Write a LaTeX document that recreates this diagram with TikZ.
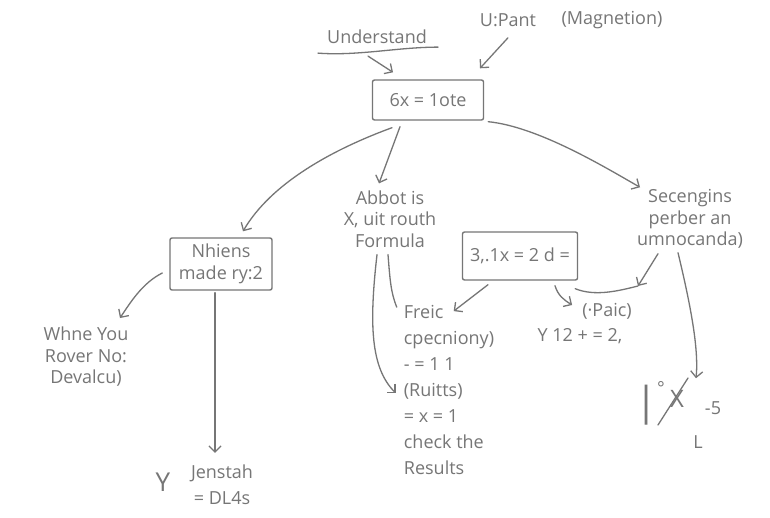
\documentclass[tikz,border=0pt]{standalone}
\usepackage{fontspec}
\setmainfont{Open Sans}
\usetikzlibrary{arrows.meta}
\definecolor{ink}{RGB}{118,118,118}

\begin{document}
\begin{tikzpicture}[x=1pt,y=-1pt,
	every node/.style = {text=ink, font=\fontsize{18}{21.5}\selectfont,
		align=center, inner sep=2pt},
	box/.style = {draw=ink, line width=1.4pt, rounded corners=2pt},
	line/.style = {draw=ink, line width=1.3pt, line cap=round},
	link/.style = {line, -{Straight Barb[length=6pt,width=12pt]}}]
	\useasboundingbox[fill=white] (0,0) rectangle (770,518);
	\node (under) at (377,37) {Understand};
	\node (upant) at (508,20) {U:Pant};
	\node (magn) at (612,20) {(Magnetion)};
	\node[box, minimum width=111pt, minimum height=40pt] (eq) at (428,100) {6x = 1ote};
	\node (abbot) at (390,219) {Abbot is\\X, uit routh\\Formula};
	\node (sec) at (690,219) {Secengins\\perber an\\umnocanda)};
	\node[box, minimum width=102pt, minimum height=52pt] (nh) at (221,264) {Nhiens\\made ry:2};
	\node[box, minimum width=115pt, minimum height=48pt] (calc) at (520,256) {3,.1x = 2 d =};
	\node (whne) at (86,357) {Whne You\\Rover No:\\Devalcu)};
	\node[font=\fontsize{18}{26}\selectfont] (jen) at (222,485) {Jenstah\\= DL4s};
	\node[font=\fontsize{26}{26}\selectfont] (why) at (163,482) {Y};
	\node[align=left, font=\fontsize{18}{26}\selectfont] (res) at (449,390)
		{Freic\\cpecniony)\\- = 1 1\\(Ruitts)\\= x = 1\\check the\\Results};
	\node (paic) at (607,311) {(·Paic)};
	\node (yy) at (580,336) {Y 12 + = 2,};
	\node[font=\fontsize{40}{40}\selectfont] (bar) at (647,405) {|};
	\node (deg) at (661,388) {°};
	\node[font=\fontsize{24}{24}\selectfont] (xx) at (677,399) {X};
	\node (five) at (713,408) {-5};
	\node (ell) at (698,442) {L};
	\coordinate (meet) at (638,286);

	\draw[line] ([shift={(-59,7)}]under.south) .. controls +(40,3) and +(-40,0) .. ([shift={(61,1)}]under.south);
	\draw[link] ([shift={(-9,10)}]under.south) -- ([shift={(-35,-7)}]eq.north);
	\draw[link] ([shift={(0,9)}]upant.south) -- ([shift={(52,-11)}]eq.north);
	\draw[link] ([shift={(-36,7)}]eq.south) .. controls +(-60,22) and +(28,-48) .. ([shift={(22,-6)}]nh.north);
	\draw[link] ([shift={(-28,6)}]eq.south) -- ([shift={(-11,-5)}]abbot.north);
	\draw[link] ([shift={(4,1)}]eq.south east) .. controls +(50,5) and +(-35,-20) .. ([shift={(-50,0)}]sec.north);
	\draw[link] ([shift={(-7,9)}]nh.west) .. controls +(-20,10) and +(10,-15) .. ([shift={(34,-7)}]whne.north);
	\draw[link] ([shift={(-6,2)}]nh.south) -- ([shift={(-7,-10)}]jen.north);
	\draw[link] ([shift={(-13,5)}]abbot.south) .. controls +(-8,70) and +(-25,-25) .. ([shift={(-6,3)}]res.west);
	\draw[line] ([shift={(-2,5)}]abbot.south) .. controls +(2,25) and +(-6,-15) .. ([shift={(-5,4)}]res.north west);
	\draw[link] ([shift={(-32,4)}]calc.south) -- ([shift={(52,8)}]res.north west);
	\draw[link] ([shift={(35,5)}]calc.south) .. controls +(3,10) and +(-8,-5) .. ([shift={(-8,-6)}]paic.west);
	\draw[line] ([shift={(-3,8)}]calc.south east) .. controls +(20,8) and +(-20,5) .. (meet);
	\draw[link] ([shift={(-32,3)}]sec.south) -- (meet);
	\draw[link] ([shift={(-12,2)}]sec.south) .. controls +(12,50) and +(3,-30) .. ([shift={(19,-10)}]xx.north);
	\draw[line] (658,425) -- (688,378);
\end{tikzpicture}
\end{document}
